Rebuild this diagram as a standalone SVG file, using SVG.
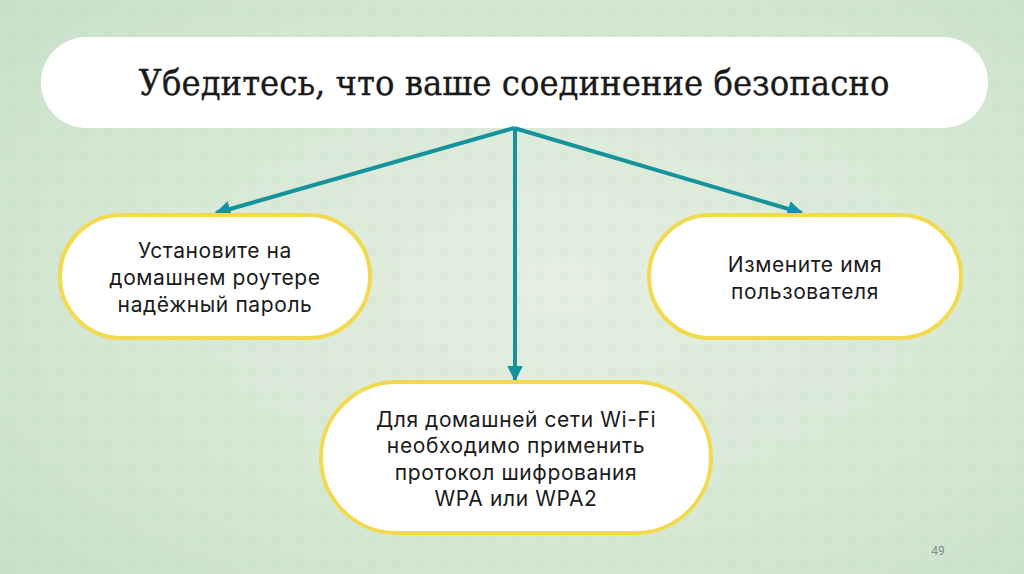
<svg xmlns="http://www.w3.org/2000/svg" width="1024" height="574" viewBox="0 0 1024 574">
<defs>
<radialGradient id="bg" cx="0.55" cy="0.5" r="0.75">
<stop offset="0" stop-color="#e6efe2"/>
<stop offset="0.6" stop-color="#d6e8d4"/>
<stop offset="1" stop-color="#c6e0c9"/>
</radialGradient>
<pattern id="dots" width="24" height="24" patternUnits="userSpaceOnUse">
<circle cx="12" cy="12" r="5" fill="#b9d6bd" opacity="0.35"/>
</pattern>
<marker id="ah" viewBox="0 0 10 10" refX="9" refY="5" markerWidth="4" markerHeight="4" orient="auto" markerUnits="strokeWidth">
<path d="M0,0 L10,5 L0,10 z" fill="#16939a"/>
</marker>
<style>
.node{fill:#ffffff;stroke:#f3d94e;stroke-width:4}
.t{font-family:Inter,"Noto Sans",sans-serif;font-size:21px;letter-spacing:0.6px;fill:#1a1a1a;text-anchor:middle}
.c{stroke:#16939a;stroke-width:4;fill:none;marker-end:url(#ah)}
</style>
</defs>
<rect width="1024" height="574" fill="url(#bg)"/>
<rect width="1024" height="574" fill="url(#dots)" opacity="0.5"/>
<g id="title">
<rect x="41" y="37" width="947" height="91" rx="45.5" fill="#ffffff"/>
<text x="514" y="95" font-family="'DejaVu Serif Condensed','DejaVu Serif',serif" font-stretch="condensed" font-size="36" fill="#1a1a1a" stroke="#1a1a1a" stroke-width="0.3" text-anchor="middle">Убедитесь, что ваше соединение безопасно</text>
</g>
<g id="connectors">
<line class="c" x1="514" y1="128" x2="216" y2="213"/>
<line class="c" x1="514" y1="128" x2="802" y2="213"/>
<line class="c" x1="515" y1="128" x2="515" y2="380"/>
</g>
<g id="node-left">
<rect class="node" x="60" y="215" width="310" height="123" rx="61.5"/>
<text class="t" x="215" y="258">Установите на</text>
<text class="t" x="215" y="285">домашнем роутере</text>
<text class="t" x="215" y="312">надёжный пароль</text>
</g>
<g id="node-right">
<rect class="node" x="649" y="215" width="312" height="123" rx="61.5"/>
<text class="t" x="805" y="272">Измените имя</text>
<text class="t" x="805" y="299">пользователя</text>
</g>
<g id="node-bottom">
<rect class="node" x="321" y="382" width="390" height="151" rx="75.5"/>
<text class="t" x="516" y="427">Для домашней сети Wi-Fi</text>
<text class="t" x="516" y="453">необходимо применить</text>
<text class="t" x="516" y="480">протокол шифрования</text>
<text class="t" x="516" y="506">WPA или WPA2</text>
</g>
<text x="938" y="555" font-family="Roboto,'Liberation Sans',sans-serif" font-size="12" fill="#8a8a8a" text-anchor="middle">49</text>
</svg>
